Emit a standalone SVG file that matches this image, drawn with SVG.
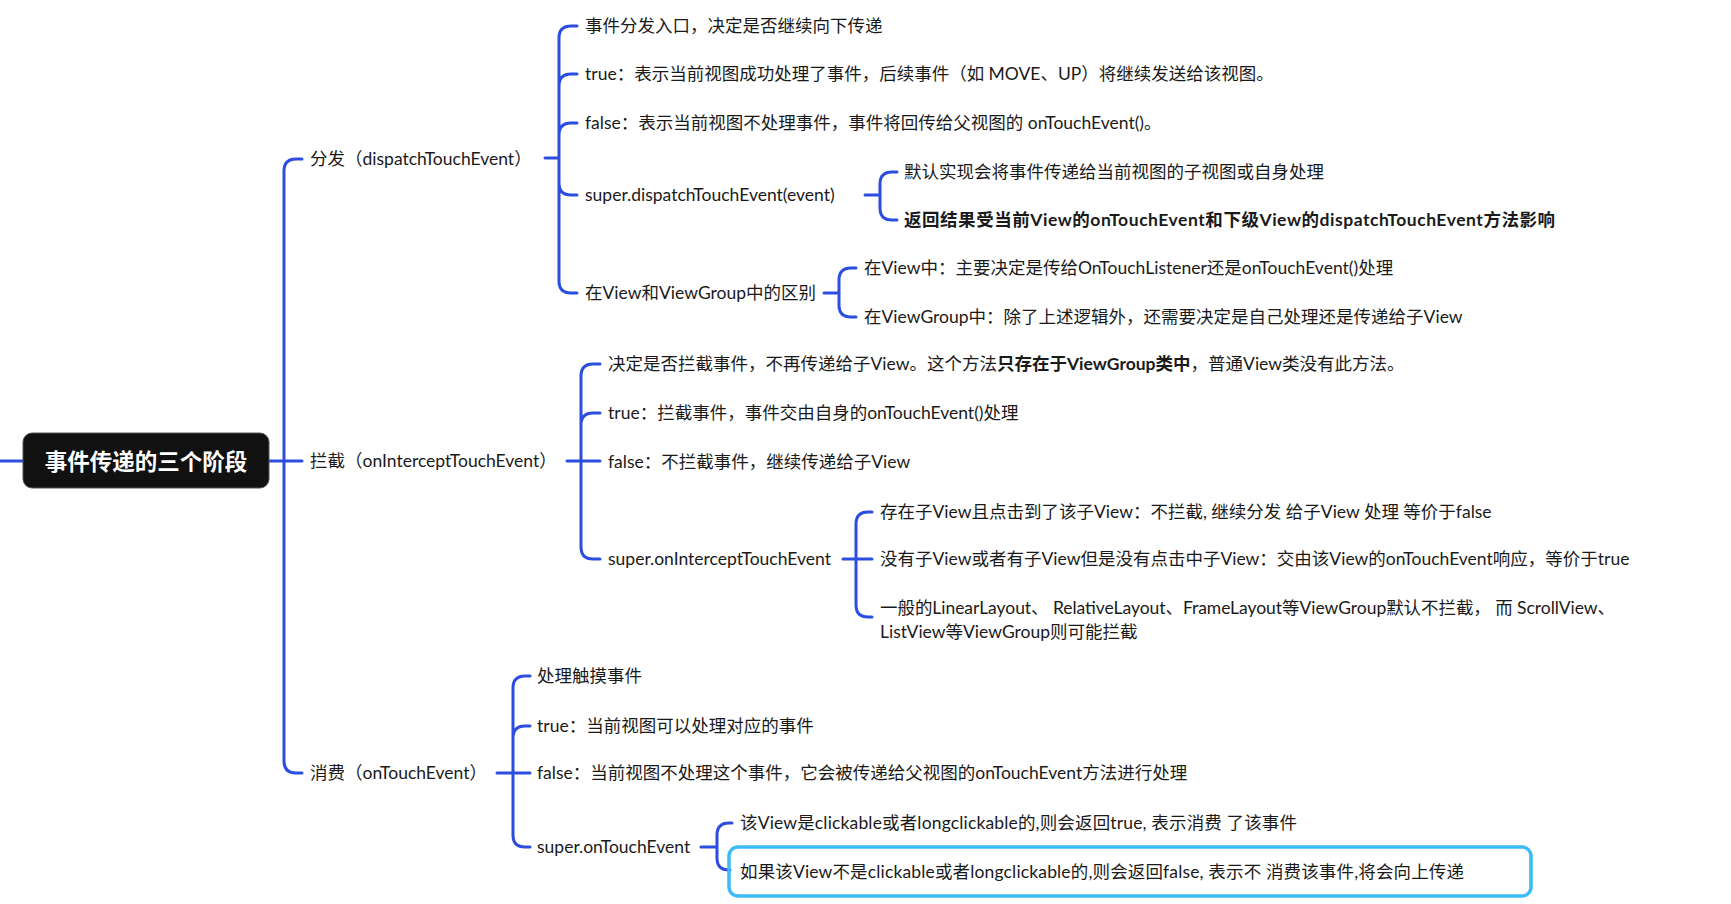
<svg xmlns="http://www.w3.org/2000/svg" width="1731" height="904" viewBox="0 0 1731 904">
<style>
.c{fill:none;stroke:#2c4ee0;stroke-width:3;stroke-linecap:round}
.t{font-family:Lato,"Noto Sans CJK SC",sans-serif;font-size:17.5px;fill:#1a1a1a;dominant-baseline:central}
.b{font-weight:bold}
.root{font-family:"Noto Sans CJK SC","Noto Sans",sans-serif;font-size:22.5px;font-weight:bold;fill:#fff;dominant-baseline:central;text-anchor:middle}
</style>
<rect width="1731" height="904" fill="#fff"/>
<g id="connectors">
<path class="c" d="M0,461 H23 M269,461 H302"/>
<path class="c" d="M284,171 V761 M284,171 Q284,159 296,159 H302 M284,761 Q284,773 296,773 H302"/>
<path class="c" d="M545,158 H559 M559,38 V281 M559,38 Q559,26 571,26 H577 M559,86 Q559,74 571,74 H577 M559,135 Q559,123 571,123 H577 M559,183 Q559,195 571,195 H577 M559,281 Q559,293 571,293 H577"/>
<path class="c" d="M865,195 H880 M880,184 V208 M880,184 Q880,172 892,172 H897 M880,208 Q880,220 892,220 H897"/>
<path class="c" d="M824,293 H839 M839,280 V305 M839,280 Q839,268 851,268 H856 M839,305 Q839,317 851,317 H856"/>
<path class="c" d="M567,461 H600 M581,376 V547 M581,376 Q581,364 593,364 H600 M581,425 Q581,413 593,413 H600 M581,547 Q581,559 593,559 H600"/>
<path class="c" d="M843,559 H872 M856,524 V605 M856,524 Q856,512 868,512 H872 M856,605 Q856,617 868,617 H872"/>
<path class="c" d="M497,773 H530 M513,688 V835 M513,688 Q513,676 525,676 H530 M513,738 Q513,726 525,726 H530 M513,835 Q513,847 525,847 H530"/>
<path class="c" d="M701,847 H717 M717,835 V858 M717,835 Q717,823 729,823 H732 M717,858 Q717,870 729,870 H730"/>
</g>
<g id="root">
<rect x="23" y="433" width="246" height="55" rx="9" fill="#111" stroke="#555" stroke-width="1"/>
<text class="root" x="146" y="460">事件传递的三个阶段</text>
</g>
<g id="n-dispatch"><text class="t" x="310" y="158">分发（dispatchTouchEvent）</text></g>
<g id="n-intercept"><text class="t" x="310" y="460">拦截（onInterceptTouchEvent）</text></g>
<g id="n-consume"><text class="t" x="310" y="772">消费（onTouchEvent）</text></g>

<g id="n-d1"><text class="t" x="585" y="25">事件分发入口，决定是否继续向下传递</text></g>
<g id="n-d2"><text class="t" x="585" y="73">true：表示当前视图成功处理了事件，后续事件（如 MOVE、UP）将继续发送给该视图。</text></g>
<g id="n-d3"><text class="t" x="585" y="122">false：表示当前视图不处理事件，事件将回传给父视图的 onTouchEvent()。</text></g>
<g id="n-d4"><text class="t" x="585" y="194">super.dispatchTouchEvent(event)</text></g>
<g id="n-d5"><text class="t" x="585" y="292">在View和ViewGroup中的区别</text></g>
<g id="n-d4a"><text class="t" x="904" y="171">默认实现会将事件传递给当前视图的子视图或自身处理</text></g>
<g id="n-d4b"><text class="t b" x="904" y="219" textLength="651">返回结果受当前View的onTouchEvent和下级View的dispatchTouchEvent方法影响</text></g>
<g id="n-d5a"><text class="t" x="864" y="267">在View中：主要决定是传给OnTouchListener还是onTouchEvent()处理</text></g>
<g id="n-d5b"><text class="t" x="864" y="316">在ViewGroup中：除了上述逻辑外，还需要决定是自己处理还是传递给子View</text></g>

<g id="n-i1"><text class="t" x="608" y="363">决定是否拦截事件，不再传递给子View。这个方法<tspan class="b">只存在于ViewGroup类中</tspan>，普通View类没有此方法。</text></g>
<g id="n-i2"><text class="t" x="608" y="412">true：拦截事件，事件交由自身的onTouchEvent()处理</text></g>
<g id="n-i3"><text class="t" x="608" y="461">false：不拦截事件，继续传递给子View</text></g>
<g id="n-i4"><text class="t" x="608" y="558">super.onInterceptTouchEvent</text></g>
<g id="n-i4a"><text class="t" x="880" y="511">存在子View且点击到了该子View：不拦截, 继续分发 给子View 处理 等价于false</text></g>
<g id="n-i4b"><text class="t" x="880" y="558">没有子View或者有子View但是没有点击中子View：交由该View的onTouchEvent响应，等价于true</text></g>
<g id="n-i4c"><text class="t" x="880" y="607" textLength="735">一般的LinearLayout、 RelativeLayout、FrameLayout等ViewGroup默认不拦截， 而 ScrollView、</text><text class="t" x="880" y="631">ListView等ViewGroup则可能拦截</text></g>

<g id="n-c1"><text class="t" x="537" y="675">处理触摸事件</text></g>
<g id="n-c2"><text class="t" x="537" y="725">true：当前视图可以处理对应的事件</text></g>
<g id="n-c3"><text class="t" x="537" y="772">false：当前视图不处理这个事件，它会被传递给父视图的onTouchEvent方法进行处理</text></g>
<g id="n-c4"><text class="t" x="537" y="846">super.onTouchEvent</text></g>
<g id="n-c4a"><text class="t" x="740" y="822" textLength="557">该View是clickable或者longclickable的,则会返回true, 表示消费 了该事件</text></g>
<g id="n-c4b"><rect x="729" y="847" width="802" height="49" rx="9" fill="none" stroke="#3bbcf7" stroke-width="3.5"/><text class="t" x="740" y="871" textLength="724">如果该View不是clickable或者longclickable的,则会返回false, 表示不 消费该事件,将会向上传递</text></g>
</svg>
